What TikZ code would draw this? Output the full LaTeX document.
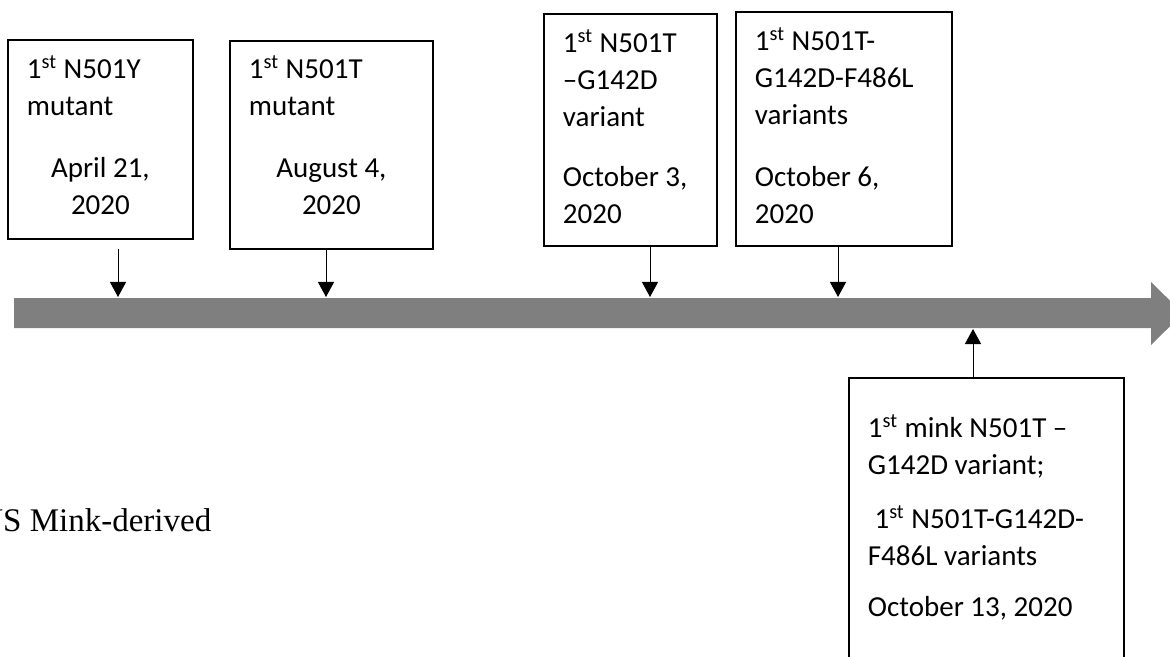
\documentclass[tikz,border=0pt]{standalone}
\usepackage{fontspec}
\setmainfont{Carlito}
\newfontfamily\timesfont{Liberation Serif}
\usepackage{tikz}
\usetikzlibrary{arrows.meta, calc}
\definecolor{barGray}{RGB}{127,127,127}

\begin{document}
\begin{tikzpicture}[x=0.5pt, y=-0.5pt,
  box/.style     = {draw, line width=0.9pt, anchor=north west,
    inner xsep=9.5pt, inner ysep=0pt, align=flush left,
    font=\fontsize{14.5}{18.5}\selectfont},
  pointer/.style = {-{Triangle[width=8pt,length=7.5pt]}, line width=0.5pt},
  ]
  \useasboundingbox (0,0) rectangle (1170,657);
  \clip (0,0) rectangle (1170,657);
  % timeline
  \fill[barGray] (14,298) -- (1151,298) -- (1151,282) -- (1183,313.5)
    -- (1151,345) -- (1151,328) -- (14,328) -- cycle;
  \coordinate (apr)   at (118,297);
  \coordinate (aug)   at (326,297);
  \coordinate (oct3)  at (650,297);
  \coordinate (oct6)  at (838,297);
  \coordinate (oct13) at (973,329);

  \node[box, text width=73.5pt] (n501y) at (7,39)
    {\rule{0pt}{19.5pt}1\textsuperscript{st} N501Y\\mutant\\[12.5pt]
     \hfill April 21,\hfill\null\\\hfill 2020\hfill\null\rule[-12pt]{0pt}{0pt}};
  \node[box, text width=82.5pt] (n501t) at (229,40)
    {\rule{0pt}{19pt}1\textsuperscript{st} N501T\\mutant\\[12.5pt]
     \hfill August 4,\hfill\null\\\hfill 2020\hfill\null\rule[-17pt]{0pt}{0pt}};
  \node[box, text width=67.5pt] (g142d) at (543,13)
    {\rule{0pt}{19.5pt}1\textsuperscript{st} N501T\\–G142D\\variant\\[11.5pt]
     October 3,\\2020\rule[-11pt]{0pt}{0pt}};
  \node[box, text width=89pt] (f486l) at (735,11)
    {\rule{0pt}{19.5pt}1\textsuperscript{st} N501T-\\G142D-F486L\\variants\\[12.5pt]
     October 6,\\2020\rule[-11pt]{0pt}{0pt}};
  \node[box, text width=118.5pt] (mink) at (848,377)
    {\rule{0pt}{30pt}1\textsuperscript{st} mink N501T –\\G142D variant;\\[8.5pt]
     \hspace*{0.23em}1\textsuperscript{st} N501T-G142D-\\F486L variants\\[7pt]
     October 13, 2020\rule[-40pt]{0pt}{0pt}};

  \node[font=\timesfont\fontsize{16.5}{19}\selectfont, anchor=base west,
    inner sep=0pt] (usmink) at (-21,531) {US Mink-derived};

  \draw[pointer] ($(n501y.south -| apr)+(0,9)$) -- (apr);
  \draw[pointer] (n501t.south -| aug) -- (aug);
  \draw[pointer] (g142d.south -| oct3) -- (oct3);
  \draw[pointer] (f486l.south -| oct6) -- (oct6);
  \draw[pointer] (mink.north -| oct13) -- (oct13);
\end{tikzpicture}
\end{document}
